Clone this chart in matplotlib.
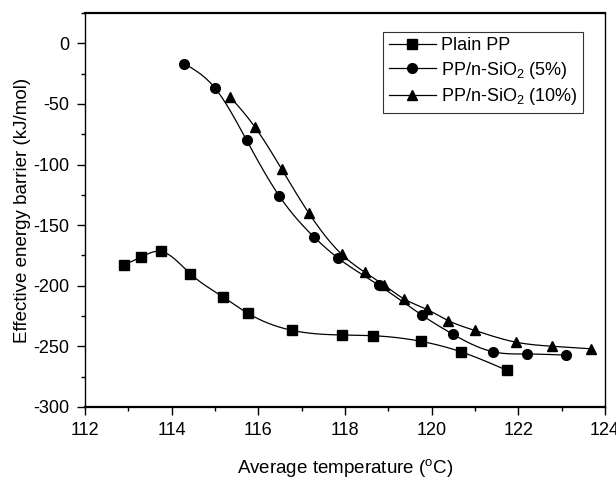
import numpy as np
import matplotlib
matplotlib.use("Agg")
import matplotlib.pyplot as plt
from matplotlib.ticker import MultipleLocator

plt.rcParams['font.family'] = ['Liberation Sans', 'DejaVu Sans']
plt.rcParams['mathtext.fontset'] = 'custom'
plt.rcParams['mathtext.rm'] = 'Liberation Sans'
plt.rcParams['mathtext.it'] = 'Liberation Sans:italic'
plt.rcParams['mathtext.bf'] = 'Liberation Sans:bold'
plt.rcParams['axes.unicode_minus'] = False

# Data
pp_x = [112.89, 113.29, 113.76, 114.43, 115.18, 115.75, 116.78, 117.93, 118.65, 119.75, 120.67, 121.74]
pp_y = [-183.0, -176.4, -171.7, -190.1, -209.1, -222.5, -236.8, -240.6, -241.2, -245.8, -254.4, -269.8]

s5_x = [114.29, 114.99, 115.73, 116.48, 117.28, 117.83, 118.78, 119.78, 120.49, 121.41, 122.2, 123.1]
s5_y = [-16.8, -36.5, -80.0, -125.8, -159.6, -176.9, -199.5, -224.4, -240.0, -254.4, -256.3, -257.2]

s10_x = [115.35, 115.92, 116.54, 117.16, 117.92, 118.45, 118.91, 119.37, 119.89, 120.38, 120.99, 121.94, 122.78, 123.68]
s10_y = [-44.2, -69.0, -103.9, -139.8, -173.9, -188.7, -199.7, -211.0, -219.5, -228.7, -236.8, -246.5, -249.9, -252.0]

labels = ['Plain PP', 'PP/n-SiO$_2$ (5%)', 'PP/n-SiO$_2$ (10%)']
markers = ['s', 'o', '^']


def natural_spline(x, y, n=400):
    x = np.asarray(x, float)
    y = np.asarray(y, float)
    m = len(x)
    h = np.diff(x)
    A = np.zeros((m, m))
    b = np.zeros(m)
    A[0, 0] = 1
    A[-1, -1] = 1
    for i in range(1, m - 1):
        A[i, i - 1] = h[i - 1]
        A[i, i] = 2 * (h[i - 1] + h[i])
        A[i, i + 1] = h[i]
        b[i] = 6 * ((y[i + 1] - y[i]) / h[i] - (y[i] - y[i - 1]) / h[i - 1])
    M = np.linalg.solve(A, b)
    xs = np.linspace(x[0], x[-1], n)
    idx = np.clip(np.searchsorted(x, xs) - 1, 0, m - 2)
    x0, x1 = x[idx], x[idx + 1]
    hh = x1 - x0
    t0 = x1 - xs
    t1 = xs - x0
    ys = (M[idx] * t0 ** 3 + M[idx + 1] * t1 ** 3) / (6 * hh) \
        + (y[idx] / hh - M[idx] * hh / 6) * t0 \
        + (y[idx + 1] / hh - M[idx + 1] * hh / 6) * t1
    return xs, ys


fig = plt.figure(figsize=(6.16, 4.79), dpi=100)
ax = fig.add_axes([85 / 616, 1 - 407 / 479, 520 / 616, 394 / 479])

handles = []
for xs_, ys_, lab, mk in zip([pp_x, s5_x, s10_x], [pp_y, s5_y, s10_y], labels, markers):
    sx, sy = natural_spline(xs_, ys_)
    ax.plot(sx, sy, color='black', lw=0.9)
    ms = 6.5 if mk == 's' else 7
    ax.plot(xs_, ys_, linestyle='none', marker=mk, color='black', ms=ms)
    h, = ax.plot([], [], color='black', lw=0.9, marker=mk, ms=ms)
    handles.append(h)

ax.set_xlim(112, 124)
ax.set_ylim(-300, 25)
ax.xaxis.set_major_locator(MultipleLocator(2))
ax.xaxis.set_minor_locator(MultipleLocator(1))
ax.yaxis.set_minor_locator(MultipleLocator(25))
ax.set_yticks(np.arange(-300, 1, 50))
ax.tick_params(which='major', direction='out', length=6, width=1, labelsize=13, pad=5,
               top=False, right=False)
ax.tick_params(which='minor', direction='out', length=3, width=1, top=False, right=False)
for sp in ax.spines.values():
    sp.set_linewidth(1.0)
ax.spines['top'].set_linewidth(1.6)
ax.spines['bottom'].set_linewidth(1.6)

ax.set_xlabel('Average temperature ($^{\\rm o}$C)', fontsize=13.5, labelpad=13)
ax.set_ylabel('Effective energy barrier (kJ/mol)', fontsize=13.5, labelpad=2)

leg = ax.legend(handles, labels, loc='upper right', bbox_to_anchor=(0.958, 0.952),
                borderaxespad=0, fontsize=13, frameon=True, fancybox=False,
                edgecolor='black', handlelength=2.6, handletextpad=0.3,
                labelspacing=0.3, borderpad=0.3)
leg.get_frame().set_linewidth(0.8)

fig.savefig('out.png', dpi=100)
